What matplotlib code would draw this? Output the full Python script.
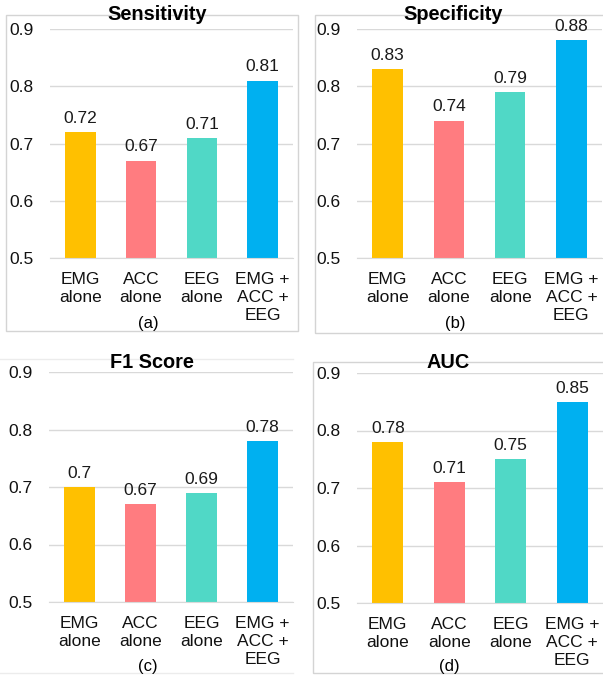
import matplotlib
matplotlib.use("Agg")
import matplotlib.pyplot as plt
from matplotlib.patches import Rectangle
from matplotlib.lines import Line2D

plt.rcParams['font.family'] = ['Liberation Sans', 'DejaVu Sans']

# data
categories = ['EMG\nalone', 'ACC\nalone', 'EEG\nalone', 'EMG +\nACC +\nEEG']
sensitivity = [0.72, 0.67, 0.71, 0.81]
specificity = [0.83, 0.74, 0.79, 0.88]
f1_score = [0.70, 0.67, 0.69, 0.78]
auc = [0.78, 0.71, 0.75, 0.85]
titles = ['Sensitivity', 'Specificity', 'F1 Score', 'AUC']
sublabels = ['(a)', '(b)', '(c)', '(d)']
yticks = [0.5, 0.6, 0.7, 0.8, 0.9]
colors = ['#FFC000', '#FF7C80', '#50D8C6', '#00B0F0']

W, H = 603, 675
fig = plt.figure(figsize=(W / 100, H / 100), dpi=100)


def fx(px):
    return px / W


def fy(py):
    return 1 - py / H


def box(x0, y0, x1, y1, color):
    fig.patches.append(Rectangle((fx(x0), fy(y1)), fx(x1) - fx(x0), fy(y0) - fy(y1),
                                 transform=fig.transFigure, fill=False,
                                 edgecolor=color, linewidth=1.0, zorder=0))


# panel frames
box(6, 15, 298, 331, '#d4d4d4')
box(315, 15, 606, 333, '#d4d4d4')
fig.lines.append(Line2D([0, fx(293)], [fy(359), fy(359)], transform=fig.transFigure,
                        color='#ececec', linewidth=1.0))
fig.lines.append(Line2D([0, fx(293)], [fy(673), fy(673)], transform=fig.transFigure,
                        color='#ececec', linewidth=1.0))
box(313, 362, 606, 673, '#d4d4d4')

# axes rectangles in pixels: left, top(0.9), right, bottom(0.5)
axes_px = [(50, 29, 293, 258), (357, 29, 602, 258),
           (49, 372, 293, 602), (357, 373, 603, 603)]
title_pos = [(157, 15), (453, 15), (152, 362), (448, 363)]
sub_pos = [(148, 323), (455, 323), (148, 667), (449, 667)]
series = [sensitivity, specificity, f1_score, auc]

for k in range(4):
    l, t, r, b = axes_px[k]
    ax = fig.add_axes([fx(l), fy(b), fx(r) - fx(l), fy(t) - fy(b)])
    x = range(len(categories))
    ax.bar(x, series[k], width=0.5, color=colors, zorder=2)
    for i, v in enumerate(series[k]):
        ax.annotate(f'{v:g}', (i, v), xytext=(0, 4.5), textcoords='offset points',
                    ha='center', va='bottom', fontsize=12.5, color='#1a1a1a')
    ax.set_ylim(0.5, 0.9)
    ax.set_xlim(-0.5, 3.5)
    ax.set_yticks(yticks)
    ax.set_yticklabels([f'{v:g}' for v in yticks])
    ax.set_xticks(list(x))
    ax.set_xticklabels(categories, linespacing=1.25)
    ax.tick_params(axis='y', length=0, pad=12, labelsize=12.5, labelcolor='#111111')
    ax.tick_params(axis='x', length=0, pad=10, labelsize=12.5, labelcolor='#111111')
    ax.grid(axis='y', color='#d9d9d9', linewidth=1.0, zorder=0)
    for s in ['left', 'right', 'top']:
        ax.spines[s].set_visible(False)
    ax.spines['bottom'].set_color('#d9d9d9')
    ax.set_facecolor('none')
    ax.set_axisbelow(True)

    tx, ty = title_pos[k]
    fig.text(fx(tx), fy(ty), titles[k], ha='center', va='center',
             fontsize=14.3, fontweight='bold')
    sx, sy = sub_pos[k]
    fig.text(fx(sx), fy(sy), sublabels[k], ha='center', va='center', fontsize=12)

fig.savefig('out.png', dpi=100)
